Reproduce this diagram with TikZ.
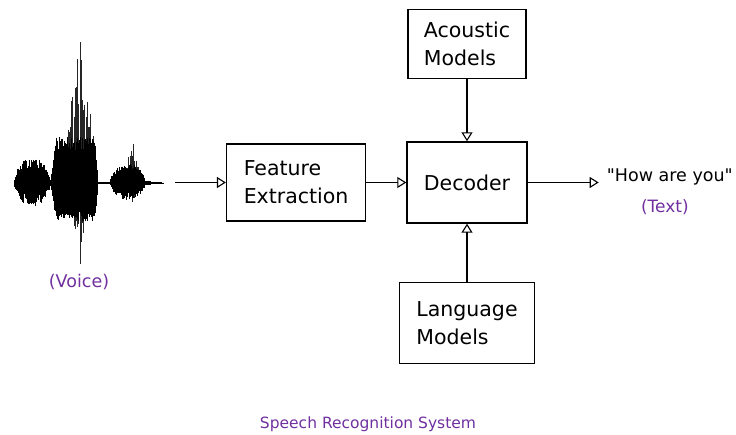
\documentclass[tikz,border=0pt]{standalone}
\usepackage{fontspec}
\setmainfont{DejaVu Sans}[Ligatures=TeXOff]
\usetikzlibrary{arrows.meta}
\usetikzlibrary{positioning}
\definecolor{notepurple}{RGB}{112,48,160}
\tikzset {
  sys path/.style = {
    draw = black,
    line width = 1.2pt
  },
  % path style with an open head at its end
  arr/.style = {
    sys path,
    -{Triangle[open, length=9pt, width=11pt, line width=1.1pt]}
  },
  % one stroke of the voice signal
  wave/.style = {
    line width = 0.7pt
  },
  spike/.style = {
    line width = 0.8pt,
    black!85
  }
}
\tikzset {
  sys node/.style = {
    draw = black,
    line width = 1.4pt,
    align = left,
    inner sep = 0
  },
  % processing block
  block/.style = {
    sys node,
    rectangle,
    font = \fontsize{20.5}{28}\selectfont
  },
  % plain text
  txt/.style = {
    inner sep = 0,
    font = \fontsize{17.5}{21}\selectfont
  },
  % purple captions
  note/.style = {
    txt,
    text = notepurple,
    font = \fontsize{17}{20}\selectfont
  }
}

\begin{document}
\begin{tikzpicture}[x=1pt, y=-1pt]
    \useasboundingbox (0,0) rectangle (736,435);

    % voice signal
    \pgfmathsetseed{11}
    \draw[line width=1.5pt] (14,183) -- (160,183);
    \foreach \x in {62,63.2,...,97} {
      \pgfmathsetmacro\t{max(0,1-abs(\x-80)/19)}
      \pgfmathsetmacro\up{142*\t^0.8*(0.55+0.45*rnd)}
      \pgfmathsetmacro\dn{82*max(0,1-abs(\x-80)/13)^0.8*(0.5+0.5*rnd)}
      \draw[spike] (\x,183-\up) -- (\x,183+\dn);
    }
    \draw[spike] (80,42) -- (80,264);
    \foreach \x in {124,125.2,...,142} {
      \pgfmathsetmacro\up{47*max(0,1-abs(\x-133)/9)^0.8*(0.55+0.45*rnd)}
      \pgfmathsetmacro\dn{21*max(0,1-abs(\x-133)/9)*(0.5+0.5*rnd)}
      \draw[spike] (\x,183-\up) -- (\x,183+\dn);
    }
    \foreach \x in {14,14.5,...,50} {
      \pgfmathsetmacro\s{sqrt(abs(sin(180*(\x-14)/36)))}
      \pgfmathsetmacro\up{26*\s*(0.5+0.5*rnd)}
      \pgfmathsetmacro\dn{24*\s*(0.5+0.5*rnd)}
      \draw[wave] (\x,183-\up) -- (\x,183+\dn);
    }
    \foreach \x in {50,50.5,...,98} {
      \pgfmathsetmacro\b{min(1,(\x-50)/6)*min(1,(98-\x)/3)}
      \pgfmathsetmacro\up{46*\b*(0.7+0.3*rnd)}
      \pgfmathsetmacro\dn{38*\b*(0.7+0.3*rnd)}
      \draw[wave] (\x,183-\up) -- (\x,183+\dn);
    }
    \foreach \x in {110,110.5,...,145} {
      \pgfmathsetmacro\s{sqrt(abs(sin(180*(\x-110)/35)))}
      \pgfmathsetmacro\up{20*\s*(0.6+0.4*rnd)}
      \pgfmathsetmacro\dn{17*\s*(0.6+0.4*rnd)}
      \draw[wave] (\x,183-\up) -- (\x,183+\dn);
    }
    \foreach \x in {145,146,...,163} {
      \pgfmathsetmacro\a{3*(165-\x)/20*(0.5+0.5*rnd)}
      \draw[wave] (\x,183-\a) -- (\x,183+\a);
    }

    % blocks
    \node[block, minimum width=120pt, minimum height=81pt] (dec) at (467,182.5) {Decoder};
    \node[block, minimum width=139pt, minimum height=77pt] (fe) [left=40pt of dec] {Feature\\Extraction};
    \node[block, minimum width=118pt, minimum height=69pt] (am) [above=62pt of dec] {Acoustic\\Models};
    \node[block, minimum width=135pt, minimum height=81pt] (lm) [below=58pt of dec] {Language\\Models};

    % texts
    \coordinate (voice) at (175,182.5);
    \node[txt, inner xsep=8pt] (out) [right=71pt of dec, yshift=6pt] {"How are you"};
    \node[note] (textlbl) [below=15pt of out, xshift=-5pt] {(Text)};
    \node[note, font=\fontsize{17.5}{20}\selectfont] (voicelbl) at (79,282) {(Voice)};
    \node[note, font=\fontsize{15.5}{18}\selectfont] (title) at (368,424) {Speech Recognition System};

    \draw[arr] (voice) -- (fe);
    \draw[arr] (fe) -- (dec);
    \draw[arr] (am) -- (dec);
    \draw[arr] (lm) -- (dec);
    \draw[arr] (dec) -- (dec -| out.west);
  \end{tikzpicture}
\end{document}
